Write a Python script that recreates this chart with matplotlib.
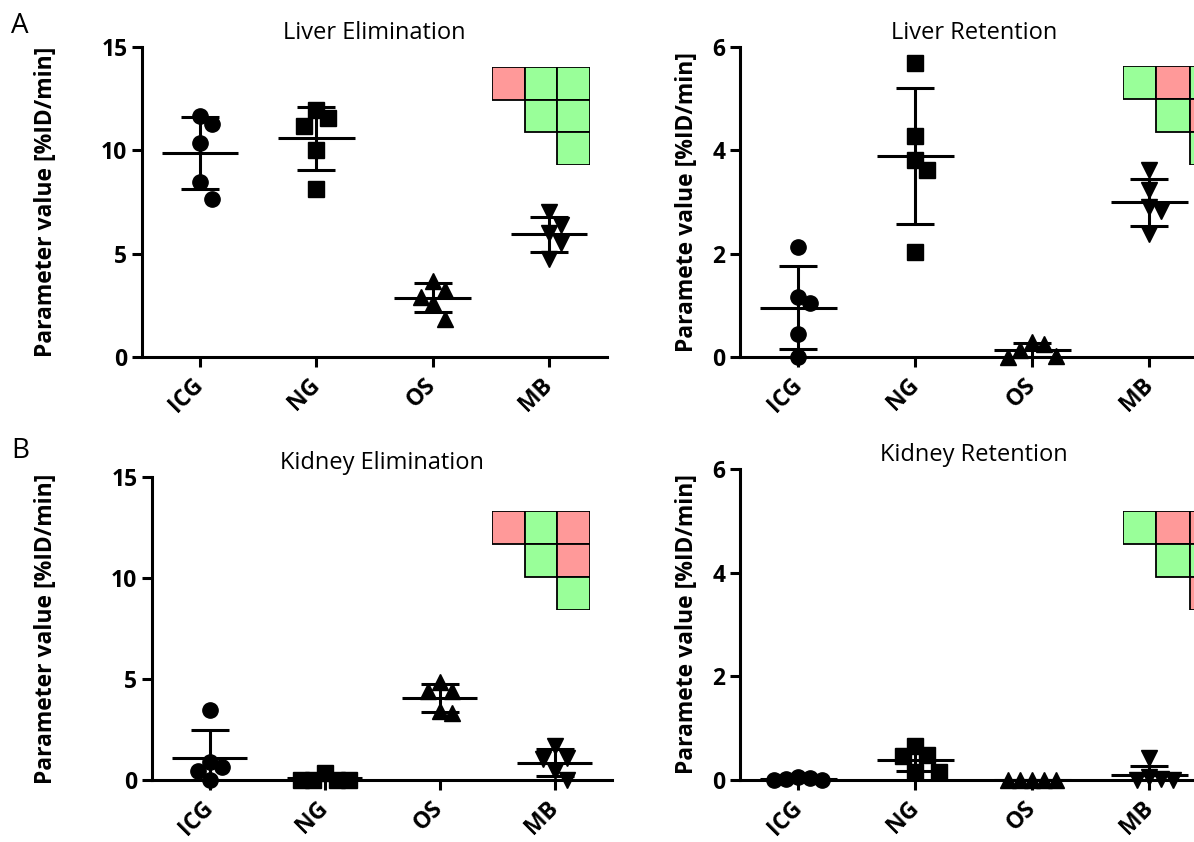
import numpy as np
import matplotlib
matplotlib.use('Agg')
import matplotlib.pyplot as plt
from matplotlib.patches import Rectangle

plt.rcParams['font.family'] = ['Open Sans', 'DejaVu Sans']

nan = np.nan

groups = ['ICG', 'NG', 'OS', 'MB']
markers = ['o', 's', '^', 'v']

# five animals per group, values in %ID/min
liver_elim = [
    [11.65, 11.29, 10.35, 8.45, 7.66],
    [11.97, 11.58, 11.16, 10.03, 8.15],
    [3.70, 3.25, 2.90, 2.60, 1.85],
    [7.00, 6.40, 6.00, 5.50, 4.75],
]
liver_ret = [
    [2.12, 1.17, 1.04, 0.45, 0.00],
    [5.70, 4.28, 3.82, 3.61, 2.04],
    [0.29, 0.26, 0.13, 0.02, 0.00],
    [3.61, 3.24, 2.91, 2.83, 2.39],
]
kidney_elim = [
    [3.49, 0.91, 0.66, 0.45, 0.00],
    [0.35, 0.02, 0.01, 0.00, 0.00],
    [4.85, 4.40, 4.40, 3.40, 3.30],
    [1.70, 1.10, 1.05, 0.45, 0.00],
]
kidney_ret = [
    [0.05, 0.03, 0.01, 0.00, 0.00],
    [0.66, 0.48, 0.46, 0.16, 0.16],
    [0.00, 0.00, 0.00, 0.00, 0.00],
    [0.42, 0.05, 0.01, 0.00, 0.00],
]

# pairwise test grids: 1 = significant (green), 0 = not (red), nan = empty
sig_liver_elim = [[0, 1, 1], [nan, 1, 1], [nan, nan, 1]]
sig_liver_ret = [[1, 0, 1], [nan, 1, 0], [nan, nan, 1]]
sig_kidney_elim = [[0, 1, 0], [nan, 1, 0], [nan, nan, 1]]
sig_kidney_ret = [[1, 0, 0], [nan, 1, 1], [nan, nan, 0]]

W, H = 1194, 842
fig = plt.figure(figsize=(W / 100, H / 100), dpi=100)


def px_rect(l, t, w, h):
    return [l / W, 1 - (t + h) / H, w / W, h / H]


def swarm(vals, ppu, step=12, min_dy=17):
    # simple beeswarm in pixel space, box collision test
    order = np.argsort(vals)[::-1]
    placed = []
    offs = np.zeros(len(vals))
    for i in order:
        y = vals[i] * ppu
        k = 0
        pick = None
        while pick is None:
            cands = [0] if k == 0 else [k * step, -k * step]
            for c in cands:
                if all(abs(c - px) >= step - 0.5 or abs(y - py) >= min_dy
                       for px, py in placed):
                    pick = c
                    break
            k += 1
        placed.append((pick, y))
        offs[i] = pick
    return offs


def panel(rect, data, ymax, yticks, title, ylabel, label_x):
    ax = fig.add_axes(px_rect(*rect))
    ax.set_xlim(-0.5, 3.5)
    ax.set_ylim(0, ymax)
    x_ppu = rect[2] / 4
    y_ppu = rect[3] / ymax
    for i, vals in enumerate(data):
        vals = np.array(vals)
        offs = swarm(vals, y_ppu) / x_ppu
        ax.plot(i + offs, vals, linestyle='none', marker=markers[i], color='k',
                markersize=11, clip_on=False, zorder=5)
        m = vals.mean()
        s = vals.std(ddof=1)
        ax.hlines(m, i - 0.33, i + 0.33, color='k', lw=2.2, zorder=4)
        ax.errorbar(i, m, yerr=s, fmt='none', ecolor='k', elinewidth=2.2,
                    capsize=13.5, capthick=2.2, zorder=4)
    for sp in ['top', 'right']:
        ax.spines[sp].set_visible(False)
    for sp in ['left', 'bottom']:
        ax.spines[sp].set_linewidth(2.2)
    ax.set_yticks(yticks)
    ax.set_xticks(range(len(groups)))
    ax.set_xticklabels(groups, rotation=45, ha='right', va='center',
                       rotation_mode='anchor')
    ax.tick_params(width=2.2, length=7, labelsize=16.5)
    ax.tick_params(axis='x', pad=11)
    for lab in ax.get_xticklabels() + ax.get_yticklabels():
        lab.set_fontweight('bold')
    ax.set_title(title, fontsize=17, pad=6)
    ax.set_ylabel(ylabel, fontsize=16.5, fontweight='bold')
    ax.yaxis.set_label_coords(label_x, 0.5)
    return ax


def grid(rect, sig):
    hax = fig.add_axes(px_rect(*rect))
    sig = np.array(sig, dtype=float)
    colors = {0: '#ff9999', 1: '#99ff99'}
    for r in range(sig.shape[0]):
        for c in range(sig.shape[1]):
            if np.isnan(sig[r, c]):
                continue
            hax.add_patch(Rectangle((c, r), 1, 1, facecolor=colors[int(sig[r, c])],
                                    edgecolor='k', linewidth=1.3))
    hax.set_xlim(0, 3)
    hax.set_ylim(3, 0)
    hax.axis('off')


lab1 = 'Parameter value [%ID/min]'
lab2 = 'Paramete value [%ID/min]'

panel((142, 47, 465, 310), liver_elim, 15, [0, 5, 10, 15], 'Liver Elimination', lab1, -0.18)
panel((740, 47, 468, 310), liver_ret, 6, [0, 2, 4, 6], 'Liver Retention', lab2, -0.088)
panel((152, 477, 460, 303), kidney_elim, 15, [0, 5, 10, 15], 'Kidney Elimination', lab1, -0.204)
panel((740, 469, 468, 311), kidney_ret, 6, [0, 2, 4, 6], 'Kidney Retention', lab2, -0.088)

grid((492, 67, 98, 98), sig_liver_elim)
grid((1123, 66, 100, 99), sig_liver_ret)
grid((492, 511, 98, 99), sig_kidney_elim)
grid((1123, 511, 100, 99), sig_kidney_ret)

fig.text(11 / W, 1 - 12 / H, 'A', fontsize=20, va='top', ha='left')
fig.text(11 / W, 1 - 437 / H, 'B', fontsize=20, va='top', ha='left')

fig.savefig('out.png', dpi=100)
